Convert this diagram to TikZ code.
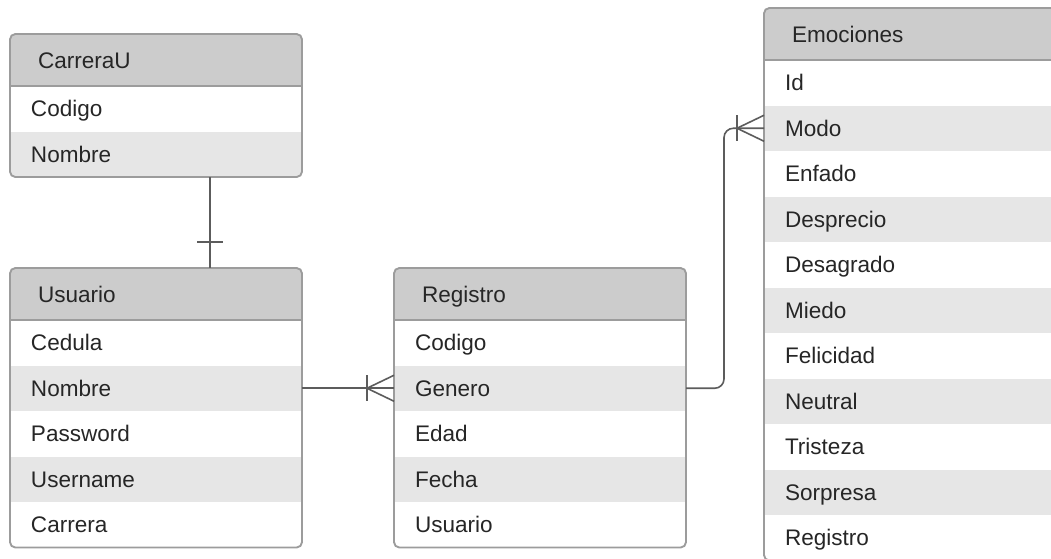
\documentclass[tikz,border=0pt]{standalone}
\usepackage{fontspec}
\setmainfont{Liberation Sans}
\usetikzlibrary{positioning}

\definecolor{headgray}{HTML}{CCCCCC}
\definecolor{bandgray}{HTML}{E6E6E6}
\definecolor{edgegray}{HTML}{9C9C9C}
\definecolor{linkgray}{HTML}{5C5C5C}

\begin{document}
\begin{tikzpicture}[
    x = 0.75pt, y = -0.75pt,
    font = \fontsize{16.9}{20}\selectfont,
    tablehead/.style = {fill = headgray,
      anchor = north west, outer sep = 0pt,
      minimum height = 39pt, inner xsep = 21pt, inner ysep = 0pt,
      text width = 177pt, align = left,
      text height = 12pt, text depth = 0pt, text = black!85},
    field/.style = {fill = white, outer sep = 0pt,
      minimum height = 34.125pt, inner xsep = 15.75pt, inner ysep = 0pt,
      text width = 187.5pt, align = left,
      text height = 12pt, text depth = 0pt, text = black!85},
    band/.style = {field, fill = bandgray},
    frame/.style = {draw = edgegray, line width = 1.4pt,
      rounded corners = 4pt},
    rule/.style = {draw = edgegray, line width = 1.4pt},
    link/.style = {draw = linkgray, line width = 1.2pt},
    ]

    \clip (0, 0) rectangle (1051, 558);
    \fill [white] (0, 0) rectangle (1051, 558);

    % CarreraU
    \begin{scope}
      \clip [rounded corners = 4pt] (10, 34) rectangle (302, 177);
      \node at (10, 34) [tablehead, name = CarreraU] {CarreraU};
      \node [field, below = 0pt of CarreraU, name = CarreraU_codigo] {Codigo};
      \node [band, below = 0pt of CarreraU_codigo, name = CarreraU_nombre] {Nombre};
    \end{scope}
    \draw [frame] (CarreraU.north west) rectangle (CarreraU_nombre.south east);
    \draw [rule] (CarreraU.south west) -- (CarreraU.south east);

    % Usuario
    \begin{scope}
      \clip [rounded corners = 4pt] (10, 268) rectangle (302, 547.5);
      \node at (10, 268) [tablehead, name = Usuario] {Usuario};
      \node [field, below = 0pt of Usuario, name = Usuario_cedula] {Cedula};
      \node [band, below = 0pt of Usuario_cedula, name = Usuario_nombre] {Nombre};
      \node [field, below = 0pt of Usuario_nombre, name = Usuario_password] {Password};
      \node [band, below = 0pt of Usuario_password, name = Usuario_username] {Username};
      \node [field, below = 0pt of Usuario_username, name = Usuario_carrera] {Carrera};
    \end{scope}
    \draw [frame] (Usuario.north west) rectangle (Usuario_carrera.south east);
    \draw [rule] (Usuario.south west) -- (Usuario.south east);

    % Registro
    \begin{scope}
      \clip [rounded corners = 4pt] (394, 268) rectangle (686, 547.5);
      \node at (394, 268) [tablehead, name = Registro] {Registro};
      \node [field, below = 0pt of Registro, name = Registro_codigo] {Codigo};
      \node [band, below = 0pt of Registro_codigo, name = Registro_genero] {Genero};
      \node [field, below = 0pt of Registro_genero, name = Registro_edad] {Edad};
      \node [band, below = 0pt of Registro_edad, name = Registro_fecha] {Fecha};
      \node [field, below = 0pt of Registro_fecha, name = Registro_usuario] {Usuario};
    \end{scope}
    \draw [frame] (Registro.north west) rectangle (Registro_usuario.south east);
    \draw [rule] (Registro.south west) -- (Registro.south east);

    % Emociones
    \begin{scope}
      \clip [rounded corners = 4pt] (764, 8) rectangle (1056, 560.5);
      \node at (764, 8) [tablehead, name = Emociones] {Emociones};
      \node [field, below = 0pt of Emociones, name = Emociones_id] {Id};
      \node [band, below = 0pt of Emociones_id, name = Emociones_modo] {Modo};
      \node [field, below = 0pt of Emociones_modo, name = Emociones_enfado] {Enfado};
      \node [band, below = 0pt of Emociones_enfado, name = Emociones_desprecio] {Desprecio};
      \node [field, below = 0pt of Emociones_desprecio, name = Emociones_desagrado] {Desagrado};
      \node [band, below = 0pt of Emociones_desagrado, name = Emociones_miedo] {Miedo};
      \node [field, below = 0pt of Emociones_miedo, name = Emociones_felicidad] {Felicidad};
      \node [band, below = 0pt of Emociones_felicidad, name = Emociones_neutral] {Neutral};
      \node [field, below = 0pt of Emociones_neutral, name = Emociones_tristeza] {Tristeza};
      \node [band, below = 0pt of Emociones_tristeza, name = Emociones_sorpresa] {Sorpresa};
      \node [field, below = 0pt of Emociones_sorpresa, name = Emociones_registro] {Registro};
    \end{scope}
    \draw [frame] (Emociones.north west) rectangle (Emociones_registro.south east);
    \draw [rule] (Emociones.south west) -- (Emociones.south east);

    % one CarreraU for each Usuario
    \draw [link] ([xshift = 40.5pt] CarreraU_nombre.south)
    -- ([xshift = 40.5pt] Usuario.north);
    \draw [link] ([xshift = 40.5pt] Usuario.north) ++(-13, -26) -- ++(26, 0);

    % many Registro for each Usuario
    \draw [link] (Usuario_nombre.east) -- (Registro_genero.west);
    \draw [link] (Registro_genero.west) ++(-27, -13) -- ++(0, 26);
    \draw [link] (Registro_genero.west) ++(0, -13) -- ++(-27, 13) -- ++(27, 13);

    % many Emociones for each Registro
    \draw [link, rounded corners = 7pt] (Registro_genero.east)
    -- ++(38, 0) |- (Emociones_modo.west);
    \draw [link] (Emociones_modo.west) ++(-27, -13) -- ++(0, 26);
    \draw [link] (Emociones_modo.west) ++(0, -13) -- ++(-27, 13) -- ++(27, 13);

  \end{tikzpicture}
\end{document}
